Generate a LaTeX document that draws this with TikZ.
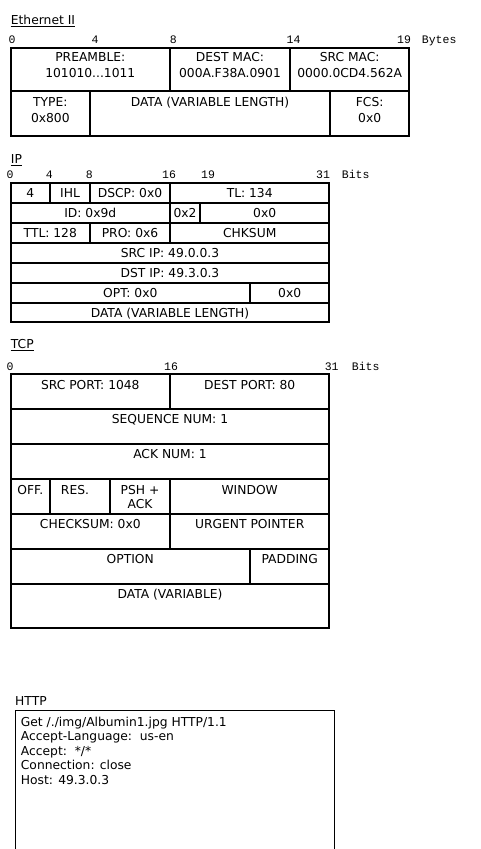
\documentclass[tikz,border=0pt]{standalone}
\usepackage{fontspec}
\setmainfont{DejaVu Sans}
\newfontfamily\scalefont{Liberation Mono}
\begin{document}
\begin{tikzpicture}[x=1pt,y=-1pt,
  cellbox/.style={line width=2pt},
  httpbox/.style={line width=1.3pt},
  txt/.style={inner sep=0pt, anchor=base, font=\fontsize{12.3}{14}\selectfont},
  ltxt/.style={txt, anchor=base west},
  scl/.style={inner sep=0pt, anchor=base, font=\scalefont\fontsize{11.5}{13}\selectfont},
  lscl/.style={scl, anchor=base west},
  uline/.style={line width=1pt}]
\useasboundingbox (0,0) rectangle (480,849);

% ---------------- Ethernet II ----------------
\node[ltxt] (ethT) at (10.7,24.4) {Ethernet II};
\draw[uline] ([yshift=-2pt]ethT.base west) -- ([yshift=-2pt]ethT.base east);
\node[scl] (e0) at (12,43.5) {0};
\node[scl] (e4) at (95,43.5) {4};
\node[scl] (e8) at (173.3,43.5) {8};
\node[scl] (e14) at (293.5,43.5) {14};
\node[scl] (e19) at (404,43.5) {19};
\node[lscl] (eB) at (421.7,43.5) {Bytes};
\draw[cellbox] (10.7,48) rectangle (170,91);
\draw[cellbox] (170,48) rectangle (290,91);
\draw[cellbox] (290,48) rectangle (409.3,91);
\draw[cellbox] (10.7,91) rectangle (90,136);
\draw[cellbox] (90,91) rectangle (330,136);
\draw[cellbox] (330,91) rectangle (409.3,136);
\node[txt] (pre1) at (90.3,61.5) {PREAMBLE:};
\node[txt] (pre2) at (90.3,77.5) {101010...1011};
\node[txt] (dm1) at (230,61.5) {DEST MAC:};
\node[txt] (dm2) at (230,77.5) {000A.F38A.0901};
\node[txt] (sm1) at (349.7,61.5) {SRC MAC:};
\node[txt] (sm2) at (349.7,77.5) {0000.0CD4.562A};
\node[txt] (ty1) at (50.3,106) {TYPE:};
\node[txt] (ty2) at (50.3,122.4) {0x800};
\node[txt] (edata) at (210,106) {DATA (VARIABLE LENGTH)};
\node[txt] (fcs1) at (369.7,106) {FCS:};
\node[txt] (fcs2) at (369.7,122.4) {0x0};

% ---------------- IP ----------------
\node[ltxt] (ipT) at (10.7,163.5) {IP};
\draw[uline] ([yshift=-2pt]ipT.base west) -- ([yshift=-2pt]ipT.base east);
\node[scl] (i0) at (10,178.5) {0};
\node[scl] (i4) at (49.3,178.5) {4};
\node[scl] (i8) at (89.3,178.5) {8};
\node[scl] (i16) at (169,178.5) {16};
\node[scl] (i19) at (208,178.5) {19};
\node[scl] (i31) at (323,178.5) {31};
\node[lscl] (iB) at (341.7,178.5) {Bits};
% row 1
\draw[cellbox] (10.7,183) rectangle (50,203);
\draw[cellbox] (50,183) rectangle (90,203);
\draw[cellbox] (90,183) rectangle (170,203);
\draw[cellbox] (170,183) rectangle (329.3,203);
% row 2
\draw[cellbox] (10.7,203) rectangle (170,223);
\draw[cellbox] (170,203) rectangle (200,223);
\draw[cellbox] (200,203) rectangle (329.3,223);
% row 3
\draw[cellbox] (10.7,223) rectangle (90,243);
\draw[cellbox] (90,223) rectangle (170,243);
\draw[cellbox] (170,223) rectangle (329.3,243);
% rows 4-5
\draw[cellbox] (10.7,243) rectangle (329.3,263);
\draw[cellbox] (10.7,263) rectangle (329.3,283);
% row 6
\draw[cellbox] (10.7,283) rectangle (250,303);
\draw[cellbox] (250,283) rectangle (329.3,303);
% row 7
\draw[cellbox] (10.7,303) rectangle (329.3,322);
\node[txt] (ver) at (30.3,197.4) {4};
\node[txt] (ihl) at (70,197.4) {IHL};
\node[txt] (dscp) at (130,197.4) {DSCP: 0x0};
\node[txt] (tl) at (249.7,197.4) {TL: 134};
\node[txt] (id) at (90.3,217.4) {ID: 0x9d};
\node[txt] (flg) at (185,217.4) {0x2};
\node[txt] (frag) at (264.7,217.4) {0x0};
\node[txt] (ttl) at (50.3,237.4) {TTL: 128};
\node[txt] (pro) at (130,237.4) {PRO: 0x6};
\node[txt] (chk) at (249.7,237.4) {CHKSUM};
\node[txt] (sip) at (170,257.4) {SRC IP: 49.0.0.3};
\node[txt] (dip) at (170,277.4) {DST IP: 49.3.0.3};
\node[txt] (opt) at (130.3,297.4) {OPT: 0x0};
\node[txt] (pad) at (289.7,297.4) {0x0};
\node[txt] (idata) at (170,317) {DATA (VARIABLE LENGTH)};

% ---------------- TCP ----------------
\node[ltxt] (tcpT) at (10.7,348.5) {TCP};
\draw[uline] ([yshift=-2pt]tcpT.base west) -- ([yshift=-2pt]tcpT.base east);
\node[scl] (t0) at (10,370) {0};
\node[scl] (t16) at (171,370) {16};
\node[scl] (t31) at (331.7,370) {31};
\node[lscl] (tB) at (351.7,370) {Bits};
\draw[cellbox] (10.7,374) rectangle (170,409);
\draw[cellbox] (170,374) rectangle (329.3,409);
\draw[cellbox] (10.7,409) rectangle (329.3,444);
\draw[cellbox] (10.7,444) rectangle (329.3,479);
\draw[cellbox] (10.7,479) rectangle (50,514);
\draw[cellbox] (50,479) rectangle (110,514);
\draw[cellbox] (110,479) rectangle (170,514);
\draw[cellbox] (170,479) rectangle (329.3,514);
\draw[cellbox] (10.7,514) rectangle (170,549);
\draw[cellbox] (170,514) rectangle (329.3,549);
\draw[cellbox] (10.7,549) rectangle (250,584);
\draw[cellbox] (250,549) rectangle (329.3,584);
\draw[cellbox] (10.7,584) rectangle (329.3,628);
\node[txt] (sport) at (90.3,389.4) {SRC PORT: 1048};
\node[txt] (dport) at (249.7,389.4) {DEST PORT: 80};
\node[txt] (seq) at (170,423.6) {SEQUENCE NUM: 1};
\node[txt] (ack) at (170,458.4) {ACK NUM: 1};
\node[txt] (off) at (30.3,494.4) {OFF.};
\node[txt] (res) at (75,494.4) {RES.};
\node[txt] (psh1) at (140,494.4) {PSH +};
\node[txt] (psh2) at (140,508.4) {ACK};
\node[txt] (win) at (249.7,494.4) {WINDOW};
\node[txt] (tchk) at (90.3,528.6) {CHECKSUM: 0x0};
\node[txt] (urg) at (249.7,528.6) {URGENT POINTER};
\node[txt] (topt) at (130.3,563.6) {OPTION};
\node[txt] (tpad) at (289.7,563.6) {PADDING};
\node[txt] (tdata) at (170,598.4) {DATA (VARIABLE)};

% ---------------- HTTP ----------------
\node[ltxt] (httpT) at (15,705) {HTTP};
\draw[httpbox] (15.7,849) -- (15.7,710.7) -- (334.3,710.7) -- (334.3,849);
\node[ltxt] (h1) at (20.7,726) {Get /./img/Albumin1.jpg HTTP/1.1};
\node[ltxt] (h2) at (20.7,740.3) {Accept-Language:\ \ us-en};
\node[ltxt] (h3) at (20.7,755) {Accept:\ \ */*};
\node[ltxt] (h4) at (20.7,769.5) {Connection: close};
\node[ltxt] (h5) at (20.7,784.2) {Host: 49.3.0.3};
\end{tikzpicture}
\end{document}
